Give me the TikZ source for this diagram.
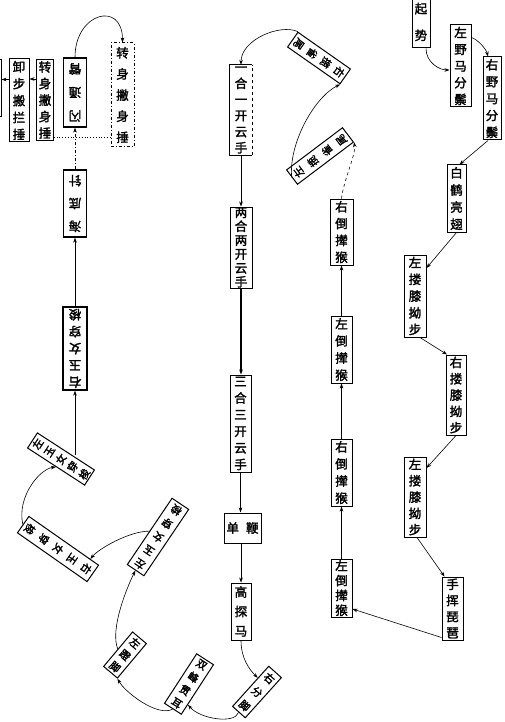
\documentclass[tikz,border=0pt]{standalone}
\usepackage{fontspec}
\newfontfamily\cjk[AutoFakeBold=2]{Noto Sans CJK SC}
\usetikzlibrary{arrows.meta,calc}
\newcommand\vs[3]{\parbox[c][#2][s]{#1}{\centering\vspace*{\stretch{.5}}#3\par\vspace*{\stretch{.5}}}}
\newcommand\nx{\par\vspace{\stretch{1}}}
\begin{document}
\begin{tikzpicture}[x=1pt,y=-1pt,
  vbn/.style={inner sep=0pt, font=\cjk\bfseries\fontsize{12.5}{13}\selectfont},
  vb/.style={vbn, draw, line width=1pt},
  sm/.style={font=\cjk\bfseries\fontsize{10.5}{11}\selectfont},
  arr/.style={-{Stealth[length=5pt,width=3.6pt]}, line width=0.6pt},
  dd/.style={dash pattern=on 3pt off 2pt on 1pt off 2pt}]
\fill[white] (0,0) rectangle (504,722);
\useasboundingbox (0,0) rectangle (504,722);
% right column
\node[vb] (qs) at (421,22) {\vs{18pt}{52pt}{起\nx 势}};
\node[vb] (ly1) at (460.5,66) {\vs{21pt}{82pt}{左\nx 野\nx 马\nx 分\nx 鬃}};
\node[vb] (ry) at (492,98.5) {\vs{18pt}{83pt}{右\nx 野\nx 马\nx 分\nx 鬃}};
\node[vb] (bh) at (456.5,198.5) {\vs{19pt}{67pt}{白\nx 鹤\nx 亮\nx 翅}};
\node[vb] (lx1) at (415,296) {\vs{22pt}{82pt}{左\nx 搂\nx 膝\nx 拗\nx 步}};
\node[vb] (rx) at (456,395) {\vs{20pt}{80pt}{右\nx 搂\nx 膝\nx 拗\nx 步}};
\node[vb] (lx2) at (415,497) {\vs{22pt}{80pt}{左\nx 搂\nx 膝\nx 拗\nx 步}};
\node[vb] (sh) at (452.5,608.5) {\vs{21pt}{63pt}{手\nx 挥\nx 琵\nx 琶}};
% dao nian hou column
\node[vb] (d4) at (341.5,232) {\vs{23pt}{66pt}{右\nx 倒\nx 撵\nx 猴}};
\node[vb] (d3) at (341.5,349.5) {\vs{21pt}{67pt}{左\nx 倒\nx 撵\nx 猴}};
\node[vb] (d2) at (341.5,472.5) {\vs{21pt}{67pt}{右\nx 倒\nx 撵\nx 猴}};
\node[vb] (d1) at (341.5,588) {\vs{21pt}{58pt}{左\nx 倒\nx 撵\nx 猴}};
\node[vb,sm,rotate=127] (L1) at (320,156) {\vs{18pt}{70pt}{左\nx 揽\nx 雀\nx 尾}};
\node[vb,sm,rotate=-125] (R1) at (319,58) {\vs{18pt}{64pt}{右\nx 揽\nx 雀\nx 尾}};
% central column
\node[vbn] (y1) at (241,110) {\vs{22pt}{90pt}{一\nx 合\nx 一\nx 开\nx 云\nx 手}};
\draw[line width=1pt] (y1.north east) -- (y1.north west) -- (y1.south west) -- (y1.south east);
\draw[line width=1pt,dashed] (y1.south east) -- (y1.north east);
\node[vb] (y2) at (241,247.5) {\vs{22pt}{81pt}{两\nx 合\nx 两\nx 开\nx 云\nx 手}};
\node[vb] (y3) at (240.5,423.5) {\vs{21pt}{97pt}{三\nx 合\nx 三\nx 开\nx 云\nx 手}};
\node[vb,minimum width=37pt,minimum height=30pt] (db) at (242.5,528) {单\hspace{7pt}鞭};
\node[vb] (gt) at (241,611.5) {\vs{20pt}{57pt}{高\nx 探\nx 马}};
\node[vb,sm,rotate=-42] (RF) at (257,692) {\vs{17pt}{54pt}{右\nx 分\nx 脚}};
\node[vb,sm,rotate=-33] (SF) at (189,684) {\vs{20pt}{59pt}{双\nx 峰\nx 贯\nx 耳}};
\node[vb,sm,rotate=-40] (LD) at (125,655) {\vs{18pt}{45pt}{左\nx 蹬\nx 脚}};
% left part
\node[vb,sm,rotate=146] (A) at (158,537) {\vs{20pt}{80pt}{左\nx 玉\nx 女\nx 穿\nx 梭}};
\node[vb,sm,rotate=-125] (B) at (58,549) {\vs{20pt}{85pt}{右\nx 玉\nx 女\nx 穿\nx 梭}};
\node[vb,sm,rotate=57] (C) at (61,459) {\vs{18pt}{68pt}{左\nx 玉\nx 女\nx 穿\nx 梭}};
\node[vb,rotate=180,line width=1.4pt] (D) at (75,348.5) {\vs{24pt}{83pt}{右\nx 玉\nx 女\nx 穿\nx 梭}};
\node[vb,rotate=180,line width=1.4pt] (hd) at (75,203.5) {\vs{23pt}{67pt}{海\nx 底\nx 针}};
\node[vb,rotate=180,line width=1.4pt] (sb) at (75,92.5) {\vs{23pt}{69pt}{闪\nx 通\nx 臂}};
\node[vb,dd] (zs1) at (122.5,95) {\vs{23pt}{104pt}{转\nx 身\nx 撇\nx 身\nx 捶}};
\node[vb] (zs2) at (45,100) {\vs{17pt}{81pt}{转\nx 身\nx 撇\nx 身\nx 捶}};
\node[vb] (xb) at (19,100.5) {\vs{20pt}{83pt}{卸\nx 步\nx 搬\nx 拦\nx 捶}};
\node[draw,line width=1pt,inner sep=0pt,minimum width=22pt,minimum height=57pt] (off) at (-10,88.5) {};
% connectors right column
\draw[arr] ([xshift=5pt]qs.south) .. controls +(0,14) and +(-10,0) .. ([yshift=-4pt]ly1.west);
\draw[arr] ([yshift=-13pt]ly1.north east) .. controls +(6,2) and +(-2,-8) .. ([xshift=-4pt]ry.north);
\draw[arr] ([xshift=-4pt]ry.south) -- ([xshift=3pt]bh.north);
\draw[arr] (bh.south) -- ([yshift=28pt]lx1.east);
\draw[arr] ([xshift=5pt]lx1.south) -- ([xshift=-9pt]rx.north);
\draw[arr] (rx.south) -- ([yshift=29pt]lx2.east);
\draw[arr] ([xshift=2pt]lx2.south) -- ([xshift=-8pt]sh.north);
\draw[arr] ([yshift=3pt]sh.south west) -- ([yshift=-21pt]d1.east);
\draw[arr,line width=1.1pt] (d1.north) -- (d2.south);
\draw[arr] (d2.north) -- (d3.south);
\draw[arr] (d3.north) -- (d4.south);
\draw[arr,dashed] (d4.north) .. controls +(2,-18) and +(2,12) .. (L1.south west);
\draw[arr] (L1.north) .. controls +(-3,-35) and +(-25,12) .. (R1.north east);
\draw[arr] (R1.south west) .. controls +(-18,-8) and +(0,-25) .. (y1.north);
% central column
\draw[arr] (y1.south) -- (y2.north);
\draw[arr,line width=1.1pt] (y2.south) -- (y2.south |- y3.north);
\draw[arr,line width=1.1pt] (y3.south) -- (y3.south |- db.north);
\draw[arr] (gt.north |- db.south) -- (gt.north);
\draw[arr] (gt.south) .. controls +(0,18) and +(-8,-8) .. ($(RF.west)!0.4!(RF.north west)$);
\draw[arr] (RF.south) .. controls +(-4,12) and +(12,14) .. ($(SF.east)!0.6!(SF.south east)$);
\draw[arr] (SF.south) .. controls +(-15,8) and +(8,14) .. (LD.south east);
\draw[arr] (LD.west) .. controls +(-8,-20) and +(-8,16) .. (A.north);
\draw[arr] (A.east) .. controls +(-20,0) and +(8,-10) .. ($(B.west)!0.75!(B.north west)$);
\draw[arr] (B.south) .. controls +(-6,-28) and +(-16,2) .. (C.west);
\draw[arr] ($(D.north |- C.east)+(0,4)$) -- (D.north);
\draw[arr] (D.south) -- (hd.north);
\draw[arr,dd] (hd.south) -- (sb.north);
\draw[arr] (sb.south) .. controls +(0,-45) and +(0,-42) .. (zs1.north);
\draw[dotted,line width=0.8pt] ([yshift=-42pt]zs1.west) -- ([yshift=-42pt]zs1.west -| zs2.east);
\draw[arr] ([yshift=21pt]zs2.west) -- ([yshift=21pt]zs2.west -| xb.east);
\draw[arr] ([yshift=21pt]xb.west) -- ([yshift=21pt]xb.west -| off.east);
\end{tikzpicture}
\end{document}
